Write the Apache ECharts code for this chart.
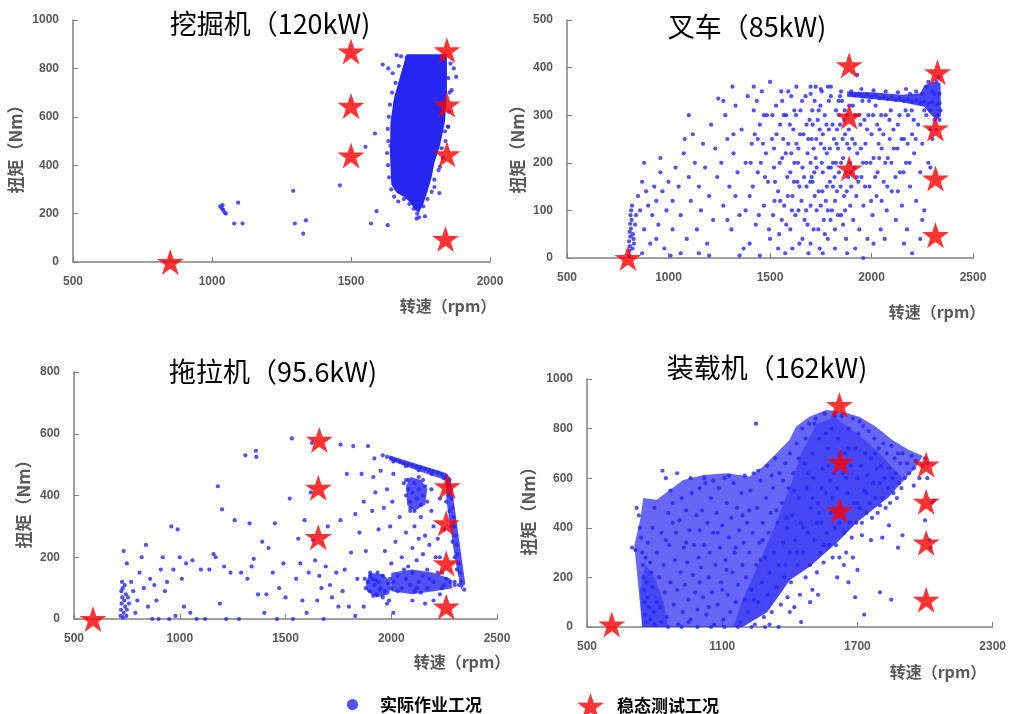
<!DOCTYPE html>
<html><head><meta charset="utf-8">
<script src="https://cdn.jsdelivr.net/npm/echarts@6/dist/echarts.min.js"></script>
<style>html,body{margin:0;padding:0;background:#fff}#c{width:1009px;height:714px}</style>
</head><body><div id="c"></div>
<script>
// ---------- titles / labels ----------
const titles = ['挖掘机（120kW)', '叉车（85kW)', '拖拉机（95.6kW)', '装载机（162kW)'];
const yName = '扭矩（Nm）';
const xName = '转速（rpm）';
const seriesNames = ['实际作业工况', '稳态测试工况'];

// ---------- axis ranges ----------
const xRanges = [[500, 2000, 500], [500, 2500, 500], [500, 2500, 500], [500, 2300, 600]];
const yRanges = [[0, 1000, 200], [0, 500, 100], [0, 800, 200], [0, 1000, 200]];

// ---------- 挖掘机 ----------
const excavatorStars = [[850,0],[1500,870],[1500,645],[1500,440],[1845,875],[1845,650],[1845,445],[1840,95]];
const excavatorDense = [[1700,858],[1845,858],[1845,700],[1838,580],[1820,480],[1800,410],[1790,350],[1775,290],[1760,240],[1745,205],[1730,215],[1715,245],[1690,270],[1665,285],[1645,320],[1640,450],[1642,580],[1655,680],[1675,760],[1690,820]];
const excavatorPoints = [[1030,230],[1035,222],[1040,215],[1045,205],[1050,200],[1038,235],[1094,245],[1080,159],[1110,159],[1292,294],[1298,159],[1338,172],[1328,117],[1460,317],[1552,476],[1586,531],[1592,210],[1572,159],[1632,152],[1614,816],[1634,800],[1664,855],[1870,800],[1878,765],[1862,710],[1850,558],[1820,393],[1818,285],[1766,189],[1736,179],[1724,241],
[1680,850],[1700,845],[1650,780],[1660,740],[1648,700],[1640,650],[1636,600],[1632,550],[1634,500],[1630,450],[1633,400],[1637,350],[1645,300],[1655,270],[1670,250],[1690,260],[1710,240],[1725,220],[1738,200],[1745,185],[1760,230],[1775,260],[1790,290],[1800,340],[1815,380],[1830,430],[1840,500],[1848,560],[1852,620],[1855,700],[1850,760],[1858,820],[1700,280],[1680,300],[1660,320],[1720,250],[1800,310],[1826,470],[1838,540],[1660,660],[1642,480],[1672,810]];

// ---------- 叉车 ----------
const forkliftStars = [[800,0],[1890,405],[1890,297],[1890,188],[2325,390],[2315,272],[2315,167],[2315,48]];
const forkliftDense = [[1880,350],[2000,348],[2150,343],[2240,346],[2260,362],[2300,370],[2340,368],[2342,298],[2320,290],[2290,302],[2260,318],[2150,327],[2000,334],[1880,339]];
const forkliftPoints = [[805,5],[808,15],[810,25],[806,35],[812,45],[809,55],[815,62],[811,72],[818,80],[813,90],[816,100],[820,110],[825,50],[830,30],[822,20],[835,70],[840,90],[828,40],
[850,130],[860,100],[870,160],[880,60],[890,140],[900,110],[910,30],[920,90],[930,150],[940,120],[950,70],[960,180],[970,140],[980,20],[990,100],[1000,160],[870,10],[940,40],[1010,5],[1020,60],[880,200],[960,210],
[1020,120],[1035,190],[1050,150],[1060,90],[1075,220],[1090,40],[1100,170],[1110,120],[1120,260],[1130,200],[1140,60],[1150,150],[1160,100],[1170,240],[1180,190],[1190,30],[1200,130],[1210,280],[1220,80],[1230,230],[1240,170],[1245,335],[1100,300],[1060,10],[1150,10],[1200,5],[1080,250],
[1260,200],[1270,110],[1280,300],[1290,250],[1300,150],[1310,60],[1315,360],[1320,220],[1330,320],[1340,180],[1350,90],[1360,270],[1370,20],[1380,200],[1390,340],[1400,130],[1410,240],[1420,310],[1430,70],[1440,180],[1450,280],[1460,350],[1470,110],[1480,220],[1490,160],[1500,370],[1500,40],[1350,5],[1450,5],[1270,330],[1420,360],[1380,100],[1330,130],[1470,300],[1440,250],[1400,30],[1320,260],[1290,80],
[1510,250],[1515,90],[1520,190],[1530,320],[1540,140],[1545,50],[1550,280],[1555,350],[1560,210],[1570,110],[1575,10],[1580,300],[1585,170],[1590,240],[1600,60],[1605,340],[1610,130],[1615,270],[1620,200],[1625,90],[1630,360],[1635,160],[1640,230],[1645,30],[1650,310],[1655,120],[1660,190],[1665,260],[1670,80],[1675,340],[1680,150],[1685,220],[1690,10],[1695,290],[1700,110],[1700,360],[1520,230],[1540,20],[1560,330],[1580,70],[1600,180],[1620,310],[1640,100],[1660,40],[1680,280],[1525,160],[1565,250],[1605,220],[1645,150],[1685,70],[1610,20],[1700,200],[1550,120],[1590,350],[1630,240],
[1705,250],[1710,160],[1715,60],[1720,330],[1725,210],[1730,100],[1735,290],[1740,140],[1745,20],[1750,240],[1755,350],[1760,180],[1765,80],[1770,300],[1775,120],[1780,220],[1785,40],[1790,270],[1795,160],[1800,340],[1805,100],[1810,200],[1815,250],[1820,60],[1825,310],[1830,140],[1835,230],[1840,180],[1845,280],[1850,90],[1855,330],[1860,210],[1865,130],[1870,260],[1875,40],[1880,300],[1885,170],[1890,230],[1895,110],[1900,350],[1710,280],[1730,190],[1750,110],[1770,50],[1790,330],[1810,150],[1830,270],[1850,200],[1870,100],[1890,320],[1720,130],[1740,310],[1760,260],[1780,150],[1800,190],[1820,120],[1840,300],[1860,70],[1880,240],[1900,150],[1715,230],[1755,200],[1795,230],[1835,90],[1875,180],[1725,360],[1785,360],[1845,340],[1700,30],[1760,10],[1820,20],[1880,10],[1705,170],[1745,270],[1785,100],[1825,200],[1865,290],[1895,200],
[1905,250],[1910,80],[1915,190],[1920,300],[1925,130],[1930,220],[1940,60],[1945,280],[1950,170],[1955,330],[1960,110],[1970,240],[1975,200],[1980,40],[1985,300],[1990,150],[2000,260],[2005,90],[2010,210],[2020,320],[2025,130],[2030,180],[2040,270],[2045,60],[2050,230],[2060,160],[2070,300],[2075,100],[2080,210],[2090,250],[2100,140],[1920,20],[1960,0],[2010,30],[2050,120],[2095,310],[1935,160],[1995,200],[2065,40],[1965,290],[2035,240],
[2110,230],[2120,80],[2130,280],[2140,180],[2150,110],[2160,250],[2170,200],[2175,60],[2180,300],[2190,150],[2200,260],[2210,220],[2220,120],[2230,280],[2240,180],[2250,240],[2260,100],[2270,300],[2280,200],[2290,270],[2300,250],[2310,290],[2320,270],[2200,10],[2160,30],[2250,80],[2130,140],[2240,40],[2290,190],
[1405,200],[1415,150],[1425,260],[1435,330],[1445,90],[1455,200],[1465,240],[1475,170],[1485,300],[1495,60],[1512,300],[1522,120],[1532,260],[1548,200],[1558,80],[1568,300],[1578,220],[1588,130],[1598,280],[1608,100],[1618,160],[1628,300],[1638,200],[1648,260],[1658,330],[1668,170],[1678,100],[1688,250],[1698,160],[1708,310],[1718,180],[1728,250],[1738,60],[1748,320],[1758,140],[1768,230],[1778,280],[1788,190],[1798,80],[1808,280],[1818,170],[1828,240],[1838,330],[1848,150],[1858,250],[1868,310],[1878,140],[1888,270],[1898,180],[1908,320],[1918,240],[1928,170],[1938,300],[1948,230],[1958,200],[1968,150],[1978,270],[1988,330],[1998,120],[2008,300],[2018,170],[2028,280],[2038,210],[2048,300],[2058,260],[2068,200],[2078,150],[2088,290],[2098,200],[2108,270],[2118,170],[2128,230],[2138,300],[2148,250],[2158,180],[2168,310],[2178,240],[2188,200],[2198,310],[2208,290],[2218,250],
[1900,345],[1920,342],[1940,344],[1960,340],[1980,343],[2000,338],[2020,341],[2040,336],[2060,339],[2080,334],[2100,337],[2120,332],[2140,335],[2160,330],[2180,333],[2200,328],[2220,331],[2240,326],[2260,329],[2280,324],[2300,327],[2320,322],[2335,325],[1950,355],[2010,352],[2070,350],[2130,348],[2190,345],[2250,345],[2300,350],[2270,360],[2320,370],[2330,380],[2290,310],[2325,300],[2335,290],[2260,310],[2220,350],[2170,355],[1930,385],[2280,370],[2310,345],[2335,345],[2340,310],[1850,350],[1800,360],[1750,355],[1700,345]];

// ---------- 拖拉机 ----------
const tractorStars = [[590,0],[1660,580],[1655,425],[1655,265],[2265,430],[2260,310],[2260,180],[2260,40]];
const tractorDense = [
 [[2255,470],[2280,458],[2350,115],[2330,95],[2300,200],[2262,380]],
 [[1990,530],[2262,472],[2255,450],[2120,482],[1990,515]],
 [[2070,430],[2090,460],[2140,450],[2170,420],[2160,370],[2110,350],[2075,370]],
 [[1880,120],[1900,150],[1960,145],[2000,120],[1990,80],[1930,70],[1885,90]],
 [[2000,150],[2100,160],[2200,150],[2280,130],[2290,100],[2200,90],[2100,80],[2000,90]]
];
const tractorPoints = [[720,10],[722,30],[725,50],[728,70],[724,90],[730,100],[735,20],[738,60],[742,40],[745,80],[732,5],[750,30],[755,70],[748,10],[760,50],[740,110],[727,120],[735,220],[750,180],[770,120],[780,90],[790,20],[800,60],[810,150],[820,200],[830,100],[840,240],[850,40],[860,130],[870,0],[880,110],[890,60],[900,0],[910,160],[920,200],[930,90],[940,120],[950,0],[960,300],[970,160],[980,10],[990,290],[1000,200],[1010,130],[1020,40],[1030,180],[1050,20],[1060,190],[1080,0],[1100,160],[1120,0],[1140,160],[1160,210],[1170,200],[1180,430],[1190,50],[1200,355],[1210,170],[1220,0],[1240,150],[1260,320],[1280,0],[1290,150],[1310,530],[1320,130],[1330,310],[1340,170],[1350,195],[1360,545],[1362,525],[1370,80],[1390,250],[1400,20],[1410,80],[1420,230],[1440,150],[1450,310],[1460,0],[1470,100],[1490,180],[1500,70],[1520,390],[1530,585],[1535,0],[1550,130],[1560,260],[1570,180],[1580,60],[1590,320],[1600,20],[1610,150],[1620,410],[1625,570],[1630,255],[1640,190],[1650,60],[1660,140],[1670,100],[1680,0],[1690,170],[1700,300],[1710,110],[1720,70],[1740,150],[1750,40],[1760,565],[1760,320],[1770,90],[1780,160],[1790,470],[1800,40],[1810,215],[1820,560],[1830,10],[1830,340],[1840,130],[1850,280],[1860,470],[1870,380],[1870,40],[1880,220],[1890,560],[1900,150],[1910,350],[1915,460],[1920,520],[1925,410],[1940,290],[1950,480],[1960,530],[1965,360],[1970,220],[1980,420],[1990,60],[1995,300],[2000,180],[2005,380],[2010,470],[2020,250],[2030,90],[2040,330],[2050,200],[2060,440],[2070,280],[2080,170],[2090,350],[2100,230],[2110,300],[2120,190],[2130,260],[2140,330],[2150,210],[2160,270],[2170,160],[2180,240],[2190,350],[2200,300],[2210,200],[2220,260],[2230,390],[2240,150],[2250,290],[2160,50],[2200,60],[2250,110],[2230,200],[2190,420],[2070,450],[1980,50],[2010,20],[2100,60],[2120,100],[2300,120],[2320,110],[2345,95],
[1880,100],[1890,120],[1900,90],[1910,130],[1920,110],[1930,80],[1940,120],[1950,100],[1960,140],[1970,90],[1985,115],[1995,130],[1900,140],[1935,150],[1960,70],[1915,75],[1945,95],[1875,130],[2000,100],[1925,125],
[2010,120],[2030,140],[2050,100],[2070,130],[2090,110],[2100,150],[2110,90],[2130,120],[2150,140],[2170,100],[2180,130],[2200,120],[2220,150],[2240,100],[2260,130],[2280,120],[2300,110],[2060,160],[2140,85],[2230,80],
[2070,400],[2080,420],[2090,380],[2100,410],[2110,440],[2120,390],[2130,420],[2140,370],[2150,400],[2160,430],[2090,360],[2110,350],[2150,450],[2080,450],[2130,460],[2170,380],
[1980,525],[2000,520],[2020,515],[2040,510],[2060,505],[2080,502],[2100,498],[2120,494],[2140,490],[2160,486],[2180,482],[2200,478],[2220,474],[2240,468],[2260,462],[2010,510],[2070,495],[2130,482],[2190,470],[2250,455],
[2275,450],[2280,420],[2285,390],[2290,360],[2295,330],[2300,300],[2305,270],[2310,240],[2315,210],[2320,180],[2325,150],[2330,120],[2270,400],[2275,350],[2285,300],[2290,250],[2300,200],[2310,160],[2265,430],[2260,380]];

// ---------- 装载机 ----------
const loaderStars = [[610,10],[1620,895],[1625,665],[1620,470],[2005,655],[2005,505],[2005,340],[2005,110]];
const loaderBody = [[745,0],[1190,0],[1300,60],[1400,190],[1490,245],[1620,350],[1695,420],[1840,525],[1960,645],[1990,690],[1929,714],[1855,754],[1781,808],[1708,848],[1634,868],[1561,875],[1487,848],[1428,808],[1398,754],[1340,700],[1281,647],[1222,607],[1119,620],[1016,613],[927,593],[809,513],[750,520],[736,432],[710,330],[725,190]];
const loaderDense = [
 [[1150,0],[1190,0],[1300,60],[1400,190],[1490,245],[1620,350],[1695,420],[1840,525],[1900,600],[1800,700],[1700,780],[1600,845],[1520,820],[1450,700],[1400,560],[1330,400],[1260,250],[1190,110]],
 [[745,0],[860,0],[840,100],[800,200],[760,250],[735,150]]
];
const loaderPoints = [[700,320],[715,310],[720,480],[730,450],[735,400],[740,360],[745,300],[748,250],[750,200],[752,150],[755,100],[758,50],[760,20],[765,180],[770,120],[775,80],[780,30],[785,220],[790,160],[795,60],[800,10],[760,280],[770,340],[780,260],[790,400],[800,480],[810,300],[820,200],[825,80],[830,380],[835,630],[840,250],[845,140],[850,600],[855,40],[860,460],[865,330],[870,180],[880,500],[885,90],[890,270],[895,380],[900,150],[905,10],[910,430],[915,220],[920,520],[925,60],[930,320],[935,170],[940,470],[945,260],[950,110],[955,390],[960,30],[965,540],[970,210],[975,330],[980,140],[985,450],[990,70],[995,280],[1000,390],[1000,560],[870,550],[900,620],[950,20],[990,0],[860,0],[920,0],[830,20],[810,100],[850,350],[880,420],[940,340],[960,600],[1000,180],
[1005,240],[1010,470],[1015,120],[1020,330],[1025,580],[1030,50],[1035,420],[1040,200],[1045,300],[1050,520],[1055,140],[1060,380],[1065,10],[1070,250],[1075,460],[1080,90],[1085,560],[1090,320],[1095,180],[1100,410],[1105,30],[1110,600],[1115,270],[1120,500],[1125,130],[1130,360],[1135,60],[1140,440],[1145,220],[1150,580],[1155,300],[1160,100],[1165,480],[1170,170],[1175,390],[1180,20],[1185,540],[1190,250],[1195,340],[1200,110],[1200,610],[1050,0],[1110,0],[1170,0],[1020,600],[1060,590],[1130,610],[1080,380],[1120,230],[1160,320],[1190,450],[1040,80],[1100,150],
[1205,200],[1210,420],[1215,60],[1220,300],[1225,550],[1230,150],[1235,380],[1240,620],[1245,10],[1250,250],[1255,480],[1260,100],[1265,340],[1270,590],[1275,180],[1280,420],[1285,40],[1290,280],[1295,520],[1300,130],[1300,650],[1305,380],[1310,220],[1315,460],[1320,60],[1325,560],[1330,300],[1335,680],[1340,160],[1345,420],[1350,250],[1355,620],[1360,90],[1365,500],[1370,340],[1375,200],[1380,660],[1385,440],[1390,120],[1395,560],[1400,300],[1400,700],[1250,820],[1350,0],[1230,0],[1290,0],[1260,630],[1320,610],[1370,590],[1220,470],[1280,350],[1340,470],[1380,250],[1390,400],[1310,10],[1240,110],[1270,270],
[1405,180],[1410,450],[1415,620],[1420,80],[1425,350],[1430,740],[1435,250],[1440,520],[1445,130],[1450,420],[1455,800],[1460,300],[1465,660],[1470,200],[1475,560],[1480,380],[1485,820],[1490,250],[1495,480],[1500,150],[1500,700],[1505,600],[1510,350],[1515,840],[1520,220],[1525,500],[1530,760],[1535,300],[1540,420],[1545,640],[1550,260],[1555,860],[1560,540],[1565,380],[1570,720],[1575,330],[1580,460],[1585,800],[1590,280],[1595,620],[1600,400],[1600,850],[1420,550],[1440,680],[1460,400],[1480,620],[1500,520],[1520,420],[1540,560],[1560,780],[1580,590],[1430,300],[1450,20],[1490,100],[1510,820],[1530,460],[1550,330],[1570,650],[1590,520],[1470,760],[1400,60],[1525,130],
[1605,330],[1610,560],[1615,760],[1620,280],[1625,480],[1630,850],[1635,620],[1640,380],[1645,700],[1650,300],[1655,540],[1660,800],[1665,420],[1670,650],[1675,360],[1680,840],[1685,500],[1690,720],[1695,420],[1700,600],[1705,780],[1710,480],[1715,650],[1720,420],[1725,810],[1730,550],[1735,700],[1740,460],[1745,610],[1750,790],[1755,500],[1760,680],[1765,440],[1770,580],[1775,760],[1780,520],[1785,640],[1790,460],[1795,720],[1800,580],[1800,490],[1610,200],[1640,250],[1680,280],[1660,180],[1700,230],[1720,370],[1760,350],[1730,50],[1690,120],[1650,600],[1620,700],[1700,500],[1740,540],[1780,700],[1620,420],[1660,720],[1710,830],
[1805,650],[1810,520],[1815,740],[1820,600],[1825,480],[1830,700],[1835,560],[1840,640],[1845,500],[1850,730],[1855,600],[1860,540],[1865,680],[1870,620],[1875,520],[1880,700],[1885,580],[1890,660],[1895,560],[1900,700],[1910,600],[1920,660],[1930,620],[1940,690],[1950,640],[1960,670],[1975,600],[1990,650],[2000,680],[2010,660],[1850,110],[1800,140],[1900,370],[2000,430],[2040,510],[2020,350],[2025,320],[1880,320],[1840,410],[1810,360],[2030,500],[1950,570],[2010,600]];

// ---------- layout ----------
const grids = [
  {left:73, top:20, width:417, height:242},
  {left:567, top:20, width:406, height:238},
  {left:74, top:372, width:423, height:247},
  {left:587, top:379, width:407, height:248}
];
const titlePos = [[270,24],[747,27],[273,372],[767,368]];
const yNamePos = [[16,145],[518,145],[24,500],[529,507]];
const xNamePos = [[448,306],[937,312],[462,662],[938,672]];

const BLUE = '#2626f2';
const RED = '#ff0000';
const STAR = 'path://M50,0 L61.8,35.5 L99,35.5 L69,57.5 L80.5,93 L50,71 L19.5,93 L31,57.5 L1,35.5 L38.2,35.5 Z';

const allPoints = [excavatorPoints, forkliftPoints, tractorPoints, loaderPoints];
const allStars = [excavatorStars, forkliftStars, tractorStars, loaderStars];
const polys = [
  [{p: excavatorDense, o: 1}],
  [{p: forkliftDense, o: 0.85}],
  tractorDense.map(p => ({p, o: 0.8})),
  [{p: loaderBody, o: 0.7}].concat(loaderDense.map(p => ({p, o: 0.5})))
];

const labelStyle = {color:'#595959', fontSize:12, fontWeight:'bold', fontFamily:'Liberation Sans, Arial, sans-serif', formatter: v => String(v)};
const axisLine = {lineStyle:{color:'#808080', width:1.5}};
const xAxis = [], yAxis = [], series = [];
for (let i = 0; i < 4; i++) {
  xAxis.push({gridIndex:i, type:'value', min:xRanges[i][0], max:xRanges[i][1], interval:xRanges[i][2],
    axisLine, axisTick:{inside:true, length:5, lineStyle:{color:'#808080'}}, splitLine:{show:false},
    axisLabel:Object.assign({margin:14}, labelStyle)});
  yAxis.push({gridIndex:i, type:'value', min:yRanges[i][0], max:yRanges[i][1], interval:yRanges[i][2],
    axisLine:{show:true, lineStyle:{color:'#808080', width:1.5}}, axisTick:{show:true, inside:true, length:5, lineStyle:{color:'#808080'}}, splitLine:{show:false},
    axisLabel:Object.assign({margin:14}, labelStyle)});
  polys[i].forEach(({p, o}) => {
    series.push({type:'custom', name:'dense', xAxisIndex:i, yAxisIndex:i, silent:true, z:1,
      data:[p[0]],
      renderItem:(params, api) => ({type:'polygon', shape:{points:p.map(v => api.coord(v))},
        style:{fill:BLUE, opacity:o}})
    });
  });
  series.push({type:'scatter', name:seriesNames[0], xAxisIndex:i, yAxisIndex:i, data:allPoints[i],
    symbol:'circle', symbolSize:4.2, itemStyle:{color:BLUE}, clip:false, z:2});
  series.push({type:'scatter', name:seriesNames[1], xAxisIndex:i, yAxisIndex:i, data:allStars[i],
    symbol:STAR, symbolSize:[27,26], itemStyle:{color:RED}, clip:false, z:3});
}

const graphic = [];
for (let i = 0; i < 4; i++) {
  graphic.push({type:'text', x:titlePos[i][0], y:titlePos[i][1], z:10,
    style:{text:titles[i], font:'27px "Noto Sans CJK SC", sans-serif', fill:'#000', textAlign:'center', textVerticalAlign:'middle'}});
  graphic.push({type:'text', x:yNamePos[i][0], y:yNamePos[i][1], rotation:Math.PI/2, z:10,
    style:{text:yName, font:'bold 17px "Noto Sans CJK SC", sans-serif', fill:'#595959', textAlign:'center', textVerticalAlign:'middle'}});
  graphic.push({type:'text', x:xNamePos[i][0], y:xNamePos[i][1], z:10,
    style:{text:xName, font:'bold 16px "Noto Sans CJK SC", sans-serif', fill:'#595959', textAlign:'center', textVerticalAlign:'middle'}});
}

const chart = echarts.init(document.getElementById('c'), null, {renderer:'canvas'});
chart.setOption({
  animation:false,
  backgroundColor:'#fff',
  grid:grids,
  xAxis, yAxis, series, graphic,
  legend:[
    {left:342, top:691, itemWidth:11, itemHeight:12, selectedMode:false,
     data:[{name:seriesNames[0], icon:'circle'}],
     textStyle:{fontSize:17, fontWeight:'bold', color:'#000', fontFamily:'"Noto Sans CJK SC", sans-serif', padding:[0,0,0,17]}},
    {left:572, top:688, itemWidth:27, itemHeight:26, selectedMode:false,
     data:[{name:seriesNames[1], icon:STAR}],
     textStyle:{fontSize:17, fontWeight:'bold', color:'#000', fontFamily:'"Noto Sans CJK SC", sans-serif', padding:[0,0,0,8]}}
  ]
});
</script></body></html>
